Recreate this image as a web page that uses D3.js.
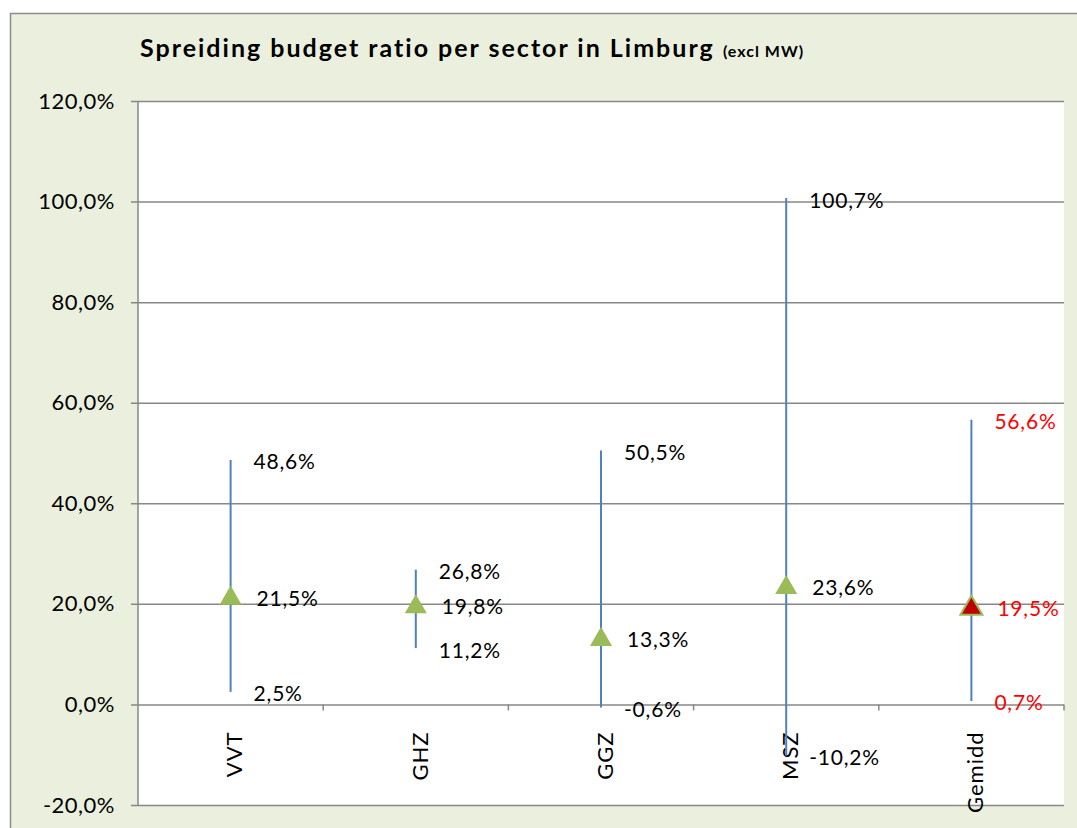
<!DOCTYPE html>
<html>
<head>
<meta charset="utf-8">
<script src="https://cdn.jsdelivr.net/npm/d3@7"></script>
<style>
  body { margin: 0; background: #fff; }
  svg text { font-family: Lato, "Open Sans", sans-serif; }
</style>
</head>
<body>
<div id="container"></div>
<script>
/* DATA */
const categories = ["VVT", "GHZ", "GGZ", "MSZ", "Gemidd"];
const maxValues = [48.6, 26.8, 50.5, 100.7, 56.6];
const meanValues = [21.5, 19.8, 13.3, 23.6, 19.5];
const minValues = [2.5, 11.2, -0.6, -10.2, 0.7];
const yTicks = [-20, 0, 20, 40, 60, 80, 100, 120];

const width = 1077,
  height = 828,
  plot = { left: 138, right: 1064, top: 101, bottom: 805 };

const fmt = v => v.toFixed(1).replace(".", ",") + "%";

const rows = categories.map((c, i) => ({
  cat: c, max: maxValues[i], mean: meanValues[i], min: minValues[i],
  avg: c === "Gemidd"
}));

const svg = d3.select("#container").append("svg")
  .attr("width", width)
  .attr("height", height);

// chart area background + border
svg.append("rect")
  .attr("x", 10.5).attr("y", 13.5)
  .attr("width", width + 20).attr("height", height + 20)
  .attr("fill", "#ebf0de")
  .attr("stroke", "#8c8c8c")
  .attr("stroke-width", 1.5);

// plot area
svg.append("rect")
  .attr("x", plot.left).attr("y", plot.top)
  .attr("width", plot.right - plot.left).attr("height", plot.bottom - plot.top)
  .attr("fill", "#fff");

const xScale = d3.scaleBand()
  .domain(categories)
  .range([plot.left, plot.right]);

const yScale = d3.scaleLinear()
  .domain([-20, 120])
  .range([plot.bottom, plot.top]);

// title
const title = svg.append("text")
  .attr("x", 140).attr("y", 57)
  .attr("font-size", 25)
  .attr("font-weight", "bold")
  .attr("letter-spacing", 2)
  .attr("fill", "#000");
title.append("tspan").text("Spreiding budget ratio per sector in Limburg ");
title.append("tspan").attr("font-size", 16).attr("letter-spacing", 1).text("(excl MW)");

// y axis with gridlines
const yAxis = d3.axisLeft(yScale)
  .tickValues(yTicks)
  .tickSize(-(plot.right - plot.left))
  .tickFormat(d => fmt(d));

const yAxisGroup = svg.append("g")
  .attr("transform", `translate(${plot.left}, 0)`)
  .call(yAxis);
yAxisGroup.select(".domain").remove();
yAxisGroup.selectAll(".tick line")
  .attr("x1", -7)
  .attr("stroke", "#878787")
  .attr("stroke-width", 1.5);
yAxisGroup.selectAll(".tick text")
  .attr("x", -23)
  .attr("font-size", 22)
  .attr("letter-spacing", 0.5)
  .attr("fill", "#000")
  .attr("font-family", "Lato, sans-serif");

// left axis line
svg.append("line")
  .attr("x1", plot.left).attr("x2", plot.left)
  .attr("y1", plot.top).attr("y2", plot.bottom)
  .attr("stroke", "#878787").attr("stroke-width", 1.5);

// category ticks on zero line
svg.append("g").selectAll("line")
  .data(categories)
  .join("line")
  .attr("x1", d => xScale(d) + xScale.bandwidth())
  .attr("x2", d => xScale(d) + xScale.bandwidth())
  .attr("y1", yScale(0))
  .attr("y2", yScale(0) + 6)
  .attr("stroke", "#878787").attr("stroke-width", 1.5);

// category labels
svg.append("g").selectAll("text")
  .data(categories)
  .join("text")
  .attr("transform", d => `translate(${xScale(d) + xScale.bandwidth() / 2 + 4}, ${yScale(0) + 27}) rotate(-90)`)
  .attr("text-anchor", "end")
  .attr("dy", "0.35em")
  .attr("font-size", 22)
  .attr("letter-spacing", 1)
  .attr("fill", "#000")
  .text(d => d);

const cx = d => xScale(d.cat) + xScale.bandwidth() / 2;

// whiskers
svg.append("g").selectAll("line")
  .data(rows)
  .join("line")
  .attr("x1", cx).attr("x2", cx)
  .attr("y1", d => yScale(d.max))
  .attr("y2", d => yScale(d.min))
  .attr("stroke", "#4f81bd")
  .attr("stroke-width", 2);

// mean markers
svg.append("g").selectAll("path")
  .data(rows)
  .join("path")
  .attr("transform", d => `translate(${cx(d)}, ${yScale(d.mean) + 2})`)
  .attr("d", d3.symbol(d3.symbolTriangle, 210))
  .attr("fill", d => d.avg ? "#c00000" : "#9bbb59")
  .attr("stroke", "#9bbb59")
  .attr("stroke-width", d => d.avg ? 2 : 0);

// data labels
const labels = [];
rows.forEach(d => {
  labels.push({ d, v: d.max, off: 23 });
  labels.push({ d, v: d.mean, off: 26 });
  labels.push({ d, v: d.min, off: 23 });
});

svg.append("g").selectAll("text")
  .data(labels)
  .join("text")
  .attr("x", l => cx(l.d) + l.off)
  .attr("y", l => yScale(l.v))
  .attr("dy", "0.45em")
  .attr("font-size", 21)
  .attr("letter-spacing", 0.8)
  .attr("fill", l => l.d.avg ? "#ff0000" : "#000")
  .text(l => fmt(l.v));
</script>
</body>
</html>
